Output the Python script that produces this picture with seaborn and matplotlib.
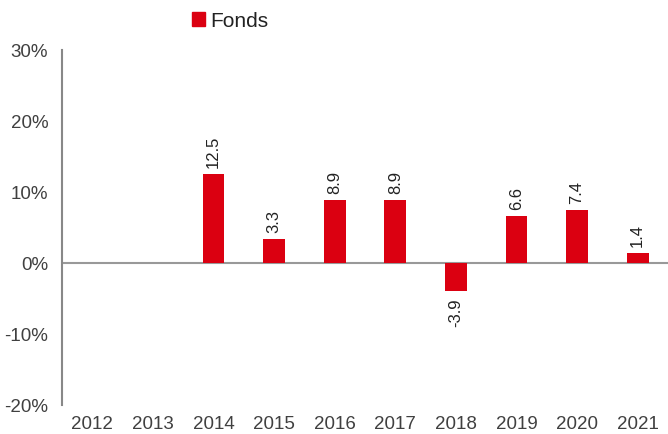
import numpy as np
import pandas as pd
import seaborn as sns
import matplotlib.pyplot as plt
from matplotlib.patches import Patch

# data
jahre = ["2012", "2013", "2014", "2015", "2016", "2017", "2018", "2019", "2020", "2021"]
fonds = [np.nan, np.nan, 12.5, 3.3, 8.9, 8.9, -3.9, 6.6, 7.4, 1.4]

rot = "#db0011"
grau_text = "#404040"

df = pd.DataFrame({"jahr": jahre, "fonds": fonds})

sns.set_style("white")
plt.rcParams["font.family"] = ["Liberation Sans", "DejaVu Sans"]

fig = plt.figure(figsize=(6.68, 4.35), dpi=100)
ax = fig.add_axes([0.093, 0.067, 0.907, 0.816])

sns.barplot(data=df, x="jahr", y="fonds", order=jahre, color=rot, width=0.36,
            saturation=1, linewidth=0, ax=ax)

# value labels, rotated like the original (nan bars are skipped by seaborn)
for p in ax.patches:
    h = p.get_height()
    if h is None or np.isnan(h):
        continue
    xc = p.get_x() + p.get_width() / 2
    ax.annotate(f"{h:.1f}", (xc, h), xytext=(0, 5 if h >= 0 else -5),
                textcoords="offset points", rotation=90, ha="center",
                va="bottom" if h >= 0 else "top", fontsize=12, color="#222222")

ax.axhline(0, color="#999999", lw=1.5, zorder=0)
ax.set_ylim(-20, 30)
ax.set_xlim(-0.5, 9.5)
ax.set_yticks([-20, -10, 0, 10, 20, 30])
ax.set_yticklabels([f"{t}%" for t in [-20, -10, 0, 10, 20, 30]])
ax.tick_params(axis="y", length=0, pad=10, labelsize=13.5, labelcolor=grau_text)
ax.tick_params(axis="x", length=0, pad=7, labelsize=13.5, labelcolor=grau_text)
ax.set_xlabel("")
ax.set_ylabel("")

for s in ["top", "right", "bottom"]:
    ax.spines[s].set_visible(False)
ax.spines["left"].set_color("#888888")
ax.spines["left"].set_linewidth(1.5)

fig.legend(handles=[Patch(color=rot, label="Fonds")], loc="center left",
           bbox_to_anchor=(0.26, 0.95), frameon=False, fontsize=15,
           handlelength=0.6, handleheight=0.6, handletextpad=0.25,
           labelcolor="#222222")

fig.savefig("out.png", dpi=100)
